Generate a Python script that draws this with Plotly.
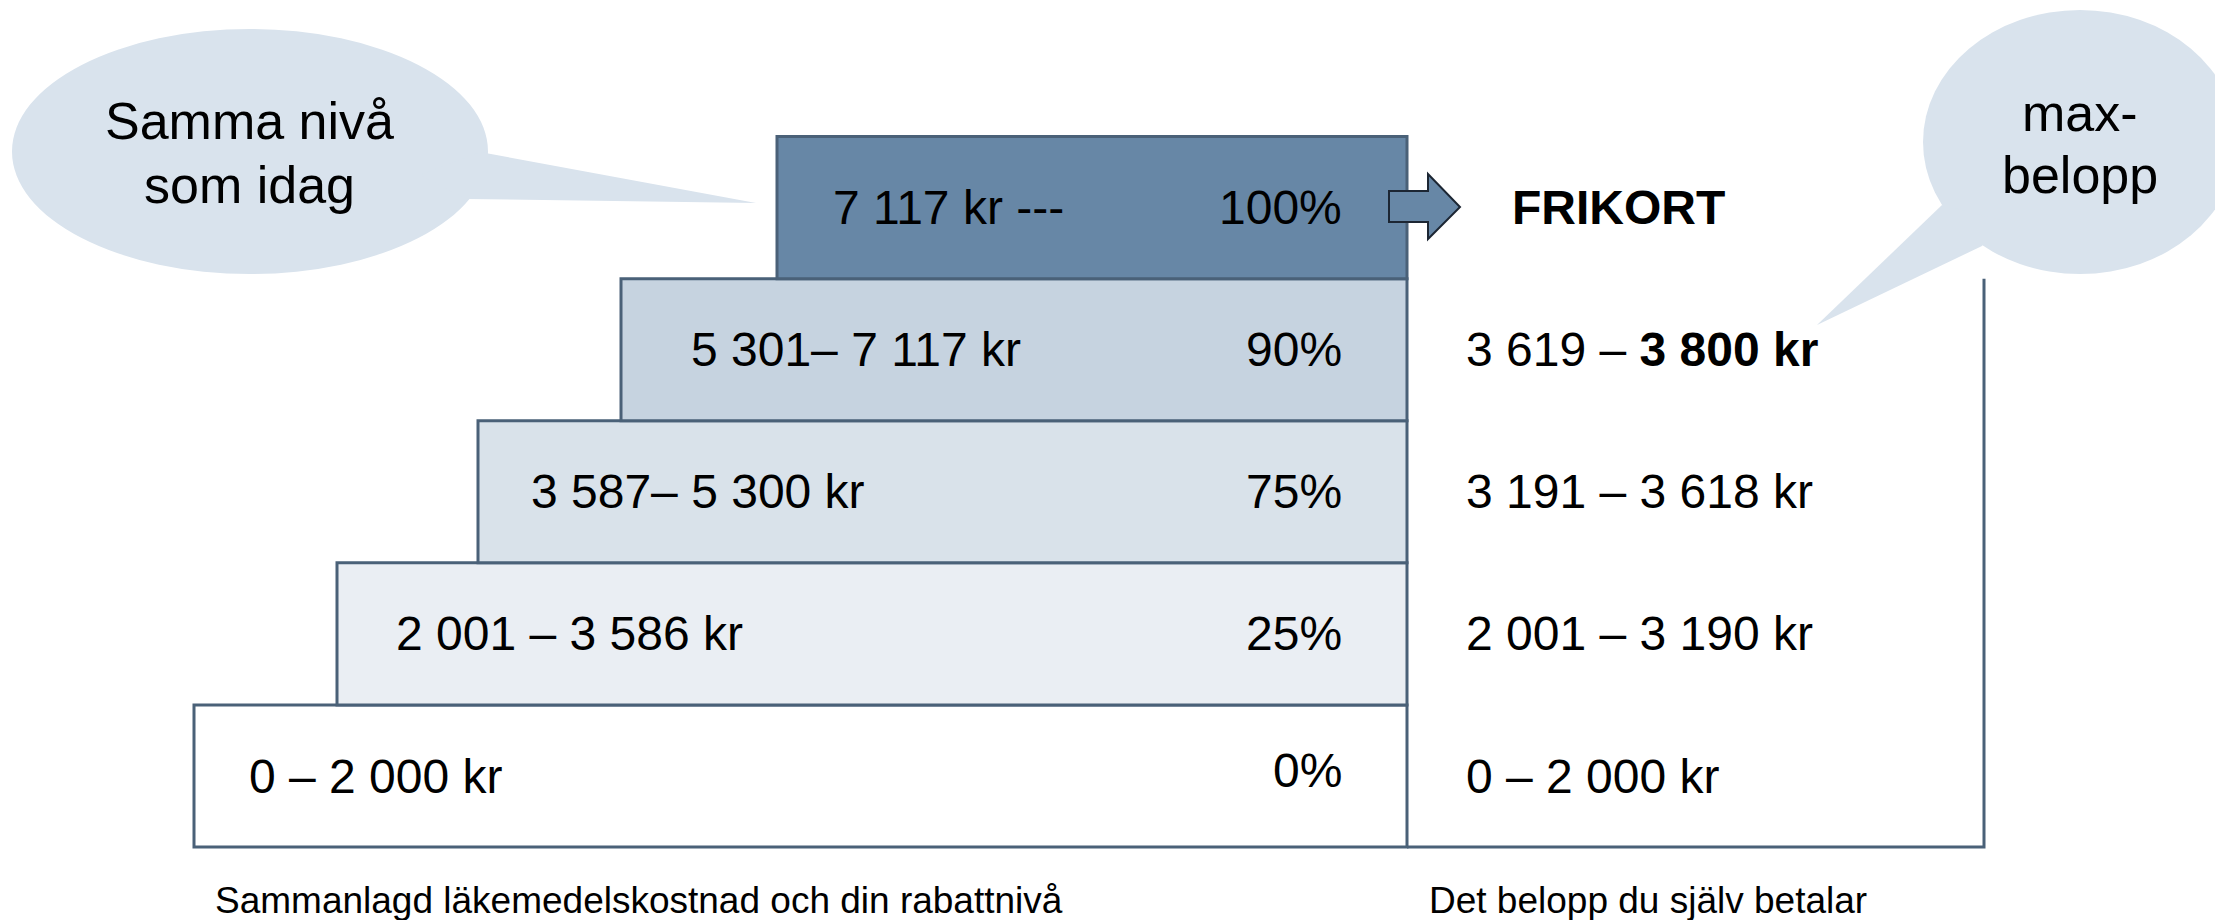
import plotly.graph_objects as go

# ---------------- data ----------------
discount_levels = ["0%", "25%", "75%", "90%", "100%"]
cost_ranges = ["0 – 2 000 kr", "2 001 – 3 586 kr", "3 587– 5 300 kr",
               "5 301– 7 117 kr", "7 117 kr ---"]
pay_ranges = ["0 – 2 000 kr", "2 001 – 3 190 kr", "3 191 – 3 618 kr",
              "3 619 – <b>3 800 kr</b>", "<b>FRIKORT</b>"]
left_caption = "Sammanlagd läkemedelskostnad och din rabattnivå"
right_caption = "Det belopp du själv betalar"
bubble_left_text = ["Samma nivå", "som idag"]
bubble_right_text = ["max-", "belopp"]

# ---------------- layout / style constants ----------------
PAGE_W, PAGE_H = 2223, 920
OFF = 8                      # default page body margin
W, H = PAGE_W - OFF, PAGE_H - OFF
FONT = "Liberation Sans, Arial, sans-serif"
BORDER = "#4a6178"
fills = ["#ffffff", "#eaeef3", "#d9e2ea", "#c6d3e0", "#6787a6"]
BUBBLE = "#d9e3ed"

ROW_PX = 142.1          # pixel height of one step
ROW0_PX = 776.0         # page-pixel centre of bottom step
box_left = [194, 337, 478, 621, 777]
box_right = 1407
frame_right = 1984
label_left = [247, 394, 529, 689, 831]
pct_right = 1344
pay_left = [1464, 1464, 1464, 1464, 1510]

def py(p):
    """page pixel row -> paper y"""
    return 1 - (p - OFF) / H

n = len(discount_levels)
rows = list(range(n))

fig = go.Figure()

# staircase boxes
fig.add_trace(go.Bar(
    orientation="h",
    y=rows,
    base=box_left,
    x=[box_right - b for b in box_left],
    width=1,
    marker=dict(color=fills, line=dict(color=BORDER, width=3)),
    hoverinfo="skip",
    showlegend=False,
))

shapes = []
# frame of "paid" column
shapes.append(dict(type="path", xref="x", yref="y",
                   path=f"M{frame_right},{n - 1.5} L{frame_right},-0.5 L{box_right},-0.5",
                   line=dict(color=BORDER, width=3)))

# left speech bubble
shapes.append(dict(type="circle", xref="x", yref="paper",
                   x0=12, x1=488, y0=py(274), y1=py(29),
                   fillcolor=BUBBLE, line=dict(width=0)))
shapes.append(dict(type="path", xref="x", yref="paper",
                   path=(f"M480,{py(152)} L756,{py(203)} L466,{py(199)} "
                         f"L420,{py(175)} Z"),
                   fillcolor=BUBBLE, line=dict(width=0)))
# right speech bubble
shapes.append(dict(type="circle", xref="x", yref="paper",
                   x0=1923, x1=2237, y0=py(274), y1=py(10),
                   fillcolor=BUBBLE, line=dict(width=0)))
shapes.append(dict(type="path", xref="x", yref="paper",
                   path=(f"M1942,{py(205)} L1817,{py(325)} L1982,{py(246)} "
                         f"L2000,{py(220)} Z"),
                   fillcolor=BUBBLE, line=dict(width=0)))
# arrow to FRIKORT
shapes.append(dict(type="path", xref="x", yref="paper",
                   path=(f"M1389,{py(191)} L1428,{py(191)} L1428,{py(174)} "
                         f"L1460,{py(207)} L1428,{py(239)} L1428,{py(222)} "
                         f"L1389,{py(222)} Z"),
                   fillcolor=fills[-1], line=dict(color="#1c2633", width=2)))

ann = []
for i in rows:
    ann.append(dict(x=label_left[i], y=i, xref="x", yref="y", text=cost_ranges[i],
                    xanchor="left", yanchor="middle", showarrow=False,
                    font=dict(family=FONT, size=48, color="#000")))
    ann.append(dict(x=pct_right, y=i, xref="x", yref="y", text=discount_levels[i],
                    xanchor="right", yanchor="middle", showarrow=False,
                    yshift=6 if i == 0 else 0,
                    font=dict(family=FONT, size=48, color="#000")))
    ann.append(dict(x=pay_left[i], y=i, xref="x", yref="y", text=pay_ranges[i],
                    xanchor="left", yanchor="middle", showarrow=False,
                    font=dict(family=FONT, size=48, color="#000")))

ann.append(dict(x=213, y=py(900), xref="x", yref="paper", text=left_caption,
                xanchor="left", yanchor="middle", showarrow=False,
                font=dict(family=FONT, size=37, color="#000")))
ann.append(dict(x=1427, y=py(900), xref="x", yref="paper", text=right_caption,
                xanchor="left", yanchor="middle", showarrow=False,
                font=dict(family=FONT, size=37, color="#000")))

for txt, yc in zip(bubble_left_text, [121, 185]):
    ann.append(dict(x=249, y=py(yc), xref="x", yref="paper", text=txt,
                    xanchor="center", yanchor="middle", showarrow=False,
                    font=dict(family=FONT, size=52, color="#000")))
for txt, yc in zip(bubble_right_text, [113, 175]):
    ann.append(dict(x=2080, y=py(yc), xref="x", yref="paper", text=txt,
                    xanchor="center", yanchor="middle", showarrow=False,
                    font=dict(family=FONT, size=52, color="#000")))

fig.update_layout(
    width=W, height=H,
    margin=dict(l=0, r=0, t=0, b=0),
    paper_bgcolor="white", plot_bgcolor="white",
    xaxis=dict(range=[OFF, PAGE_W], visible=False, fixedrange=True),
    yaxis=dict(range=[(ROW0_PX - PAGE_H) / ROW_PX, (ROW0_PX - OFF) / ROW_PX],
               visible=False, fixedrange=True),
    shapes=shapes,
    annotations=ann,
    showlegend=False,
)

fig.write_html("out.html")
